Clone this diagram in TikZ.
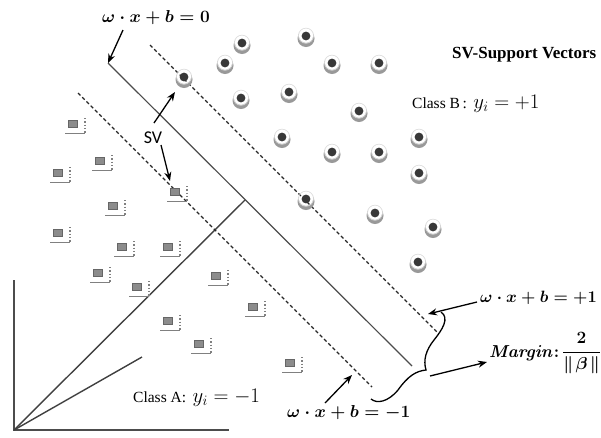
\documentclass[tikz,border=0pt]{standalone}
\usepackage{amsmath}
\usepackage[no-math]{fontspec}
\setmainfont{Liberation Serif}
\newfontfamily\svfont{Carlito}
\usetikzlibrary{arrows.meta}
\tikzset{
  classb/.pic={
    \begin{scope}
      \clip (0,2.5) circle[radius=8.5];
      \fill[black!40, even odd rule] (0,2.5) circle[radius=10] (0,-0.3) circle[radius=7.3];
    \end{scope}
    \draw[black!15, line width=0.6pt] (0,-0.3) circle[radius=7.6];
    \fill[black!78] (0,0) circle[radius=4.4];
  },
  classa/.pic={
    \fill[black!45, draw=black!60, line width=0.5pt] (-4.5,-3.5) rectangle (4.5,3.5);
    \draw[black!50, line width=1.6pt] (-8,9.5) -- (12,9.5);
    \draw[black!50, line width=1.3pt, dotted] (12,-6) -- (12,9.5);
  }
}
\begin{document}
\begin{tikzpicture}[x=1pt,y=-1pt,
  arr/.style={-{Stealth[length=9pt,width=7pt]}, line width=1.3pt, black},
  hyper/.style={line width=1.2pt, black!70},
  margline/.style={line width=1.1pt, black!85, dash pattern=on 3.5pt off 2.5pt},
  axisline/.style={line width=2pt, black!70},
  vec/.style={line width=1.4pt, black!75},
  eqlab/.style={font=\fontsize{16}{18}\selectfont\boldmath, inner sep=0pt, anchor=base west},
  txtlab/.style={inner sep=0pt, anchor=base west}
]
\useasboundingbox (0,0) rectangle (601,437);

% coordinates
\coordinate (O) at (14,430);
\coordinate (ytop) at (14,280);
\coordinate (xend) at (229,430);
\coordinate (foot) at (245,200);
\coordinate (w2) at (142,357);
\coordinate (h0a) at (108,63);
\coordinate (h0b) at (412,366);
\coordinate (hpa) at (150,45);
\coordinate (hpb) at (437,332);
\coordinate (hma) at (78,93);
\coordinate (hmb) at (372,387);

% axes and vectors
\draw[axisline] (ytop) -- (O) -- (xend);
\draw[vec] (O) -- (foot);
\draw[vec] (O) -- (w2);

% hyperplanes
\draw[hyper] (h0a) -- (h0b);
\draw[margline] (hpa) -- (hpb);
\draw[margline] (hma) -- (hmb);

% class B points
\foreach \p [count=\i] in {(306,36),(242,43),(225,63),(332,63),(379,63),(184,77),(241,98),(289,92),(359,111),(282,137),(419,137),(332,152),(379,152),(419,173),(306,199),(375,213),(433,227),(418,262)}
  \pic (b\i) at \p {classb};

% class A points
\foreach \p [count=\i] in {(73,124),(58,173),(100,161),(113,206),(175,192),(58,233),(122,247),(168,247),(98,273),(137,287),(216,276),(253,307),(168,321),(199,344),(290,363)}
  \pic (a\i) at \p {classa};

% labels
\node[eqlab] (eq0) at (102,22) {$\omega\cdot x+b=0$};
\node[eqlab] (eqp) at (480,302) {\scalebox{0.95}{$\omega\cdot x+b=+1$}};
\node[eqlab] (eqm) at (287,417) {$\omega\cdot x+b=-1$};
\node[inner sep=0pt, anchor=base, font=\svfont\fontsize{18}{20}\selectfont] (sv) at (153,143) {SV};
\node[txtlab, font=\bfseries\fontsize{17}{19}\selectfont] (svlegend) at (452,58) {SV-Support Vectors};
\node[txtlab] (clb) at (412,108) {{\fontsize{15.5}{17}\selectfont Class B\,:\, }{\fontsize{19.5}{21}\selectfont$y_i=+1$}};
\node[txtlab] (cla) at (133,402) {{\fontsize{15.5}{17}\selectfont Class A:\, }{\fontsize{19.5}{21}\selectfont$y_i=-1$}};
\node[eqlab] (marg) at (489,357) {$\mathit{Margin}{:}$};
\node[eqlab, anchor=west] (frac) at (562,353) {$\dfrac{2}{\lVert\mkern2mu\beta\mkern2mu\rVert}$};

% arrows
\coordinate (eq0s) at (123,30);
\coordinate (sv1s) at (154,123);
\coordinate (sv1e) at (175,92);
\coordinate (sv2s) at (161,145);
\coordinate (sv2e) at (170,181);
\coordinate (eqps) at (477,302);
\coordinate (eqpe) at (428,314);
\coordinate (eqms) at (325,403);
\coordinate (eqme) at (352,375);
\coordinate (margs) at (430,376);
\coordinate (marge) at (487,362);
\draw[arr] (eq0s) -- (h0a);
\draw[arr] (sv1s) -- (sv1e);
\draw[arr] (sv2s) -- (sv2e);
\draw[arr] (eqps) -- (eqpe);
\draw[arr] (eqms) -- (eqme);
\draw[arr] (margs) -- (marge);

% brace
\coordinate (bbot) at (371,399);
\coordinate (btip) at (426,370);
\coordinate (btop) at (441,312);
\draw[line width=1.3pt] (bbot) .. controls (377,404) and (388,402) .. (398,390)
  .. controls (408,376) and (416,371) .. (btip)
  .. controls (423,360) and (426,350) .. (434,340)
  .. controls (442,330) and (450,318) .. (btop);
\end{tikzpicture}
\end{document}
